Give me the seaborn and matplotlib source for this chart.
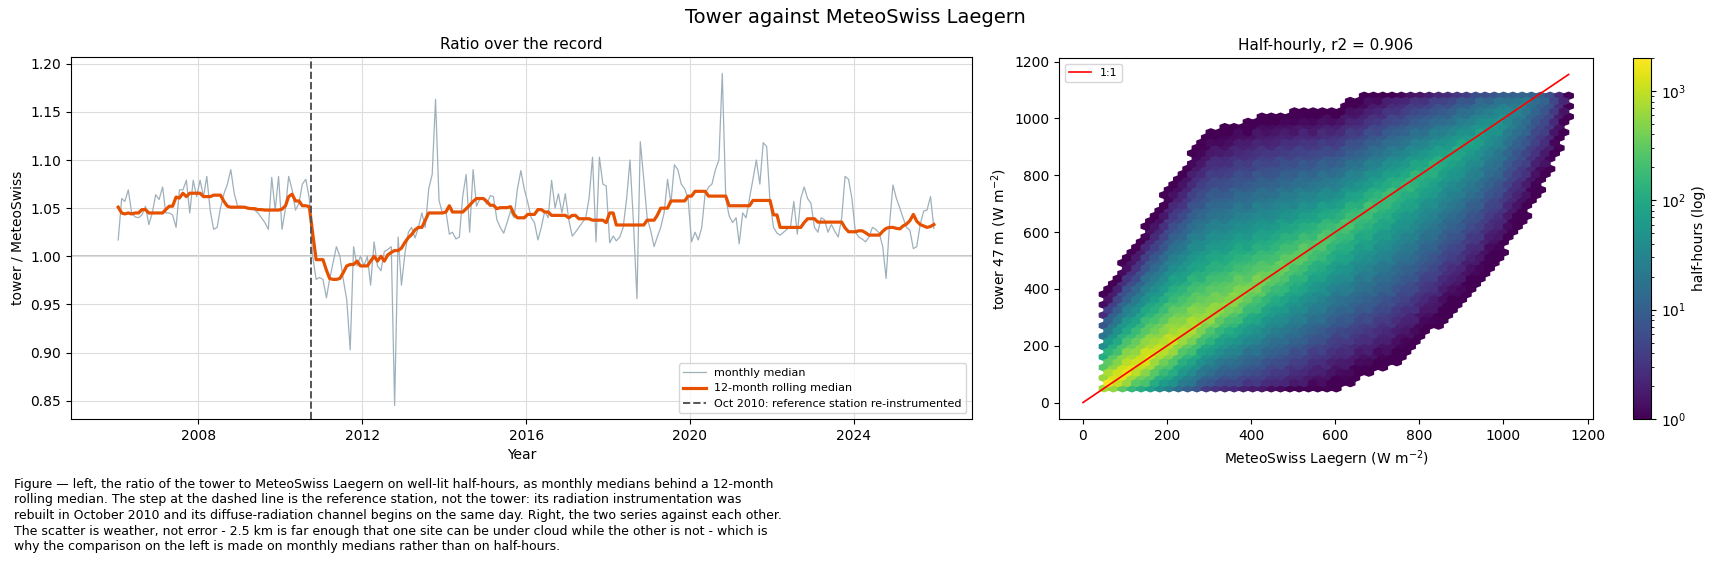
import matplotlib
matplotlib.use('Agg')
import matplotlib.pyplot as plt
import matplotlib.dates as mdates
import seaborn as sns
import numpy as np
import pandas as pd

# monthly median of tower / MeteoSwiss, Jan 2006 .. Dec 2025
ratio_by_year = {
    2006: [1.017, 1.060, 1.057, 1.069, 1.045, 1.041, 1.040, 1.043, 1.052, 1.033, 1.045, 1.064],
    2007: [1.059, 1.072, 1.045, 1.045, 1.043, 1.030, 1.069, 1.069, 1.079, 1.045, 1.079, 1.062],
    2008: [1.079, 1.062, 1.083, 1.047, 1.028, 1.030, 1.050, 1.065, 1.075, 1.090, 1.065, 1.052],
    2009: [1.052, 1.050, 1.050, 1.049, 1.048, 1.045, 1.040, 1.035, 1.028, 1.082, 1.048, 1.083],
    2010: [1.028, 1.050, 1.083, 1.069, 1.048, 1.055, 1.075, 1.080, 1.060, 1.000, 0.976, 0.978],
    2011: [0.976, 0.957, 0.976, 0.993, 1.010, 1.000, 0.976, 0.955, 0.903, 1.010, 0.990, 1.000],
    2012: [0.990, 1.000, 0.970, 1.015, 0.990, 0.985, 1.005, 1.007, 1.010, 0.845, 1.020, 0.970],
    2013: [1.003, 1.025, 1.030, 1.019, 1.030, 1.045, 1.030, 1.070, 1.085, 1.163, 1.058, 1.045],
    2014: [1.047, 1.023, 1.025, 1.018, 1.020, 1.063, 1.085, 1.025, 1.090, 1.052, 1.060, 1.060],
    2015: [1.054, 1.063, 1.062, 1.038, 1.030, 1.024, 1.035, 1.047, 1.040, 1.070, 1.089, 1.070],
    2016: [1.056, 1.040, 1.035, 1.017, 1.030, 1.047, 1.040, 1.079, 1.050, 1.065, 1.045, 1.065],
    2017: [1.038, 1.021, 1.025, 1.030, 1.035, 1.040, 1.060, 1.103, 1.015, 1.103, 1.075, 1.073],
    2018: [1.014, 1.021, 1.016, 1.020, 1.030, 1.060, 1.100, 1.035, 0.956, 1.119, 1.080, 1.040],
    2019: [1.027, 1.010, 1.020, 1.030, 1.045, 1.080, 1.055, 1.095, 1.090, 1.075, 1.070, 1.060],
    2020: [1.015, 1.025, 1.017, 1.030, 1.065, 1.072, 1.075, 1.090, 1.100, 1.190, 1.060, 1.042],
    2021: [1.035, 1.040, 1.013, 1.045, 1.040, 1.060, 1.080, 1.100, 1.075, 1.118, 1.114, 1.056],
    2022: [1.030, 1.024, 1.022, 1.025, 1.028, 1.030, 1.057, 1.023, 1.060, 1.072, 1.060, 1.055],
    2023: [1.030, 1.025, 1.040, 1.038, 1.025, 1.033, 1.026, 1.020, 1.040, 1.083, 1.080, 1.060],
    2024: [1.025, 1.020, 1.018, 1.015, 1.020, 1.030, 1.028, 1.024, 1.010, 0.977, 1.034, 1.074],
    2025: [1.060, 1.050, 1.040, 1.030, 1.027, 1.008, 1.010, 1.033, 1.047, 1.048, 1.062, 1.029],
}

# half-hourly density read off the hexbin: typical count per hex along the
# 1:1 line and the spread above / below it, at several irradiance levels
level_x = [50, 150, 300, 450, 600, 750, 900, 1050, 1150]
peak_count = [2000, 1500, 700, 400, 250, 180, 100, 25, 3]
spread_up = [40, 60, 95, 90, 75, 70, 60, 60, 60]
spread_down = [20, 40, 50, 75, 95, 110, 110, 110, 100]
r2_text = "0.906"

caption = ("Figure \u2014 left, the ratio of the tower to MeteoSwiss Laegern on well-lit half-hours, as monthly medians behind a 12-month\n"
           "rolling median. The step at the dashed line is the reference station, not the tower: its radiation instrumentation was\n"
           "rebuilt in October 2010 and its diffuse-radiation channel begins on the same day. Right, the two series against each other.\n"
           "The scatter is weather, not error - 2.5 km is far enough that one site can be under cloud while the other is not - which is\n"
           "why the comparison on the left is made on monthly medians rather than on half-hours.")

# ---- build frames
values = [v for y in sorted(ratio_by_year) for v in ratio_by_year[y]]
dates = pd.date_range("2006-01-01", periods=len(values), freq="MS") + pd.Timedelta(days=14)
df = pd.DataFrame({"date": dates, "ratio": values})
df["rolling"] = df["ratio"].rolling(12, center=True, min_periods=1).median()

step = 5
gx, gy = np.meshgrid(np.arange(50, 1156, step), np.arange(50, 1081, step))
gx, gy = gx.ravel(), gy.ravel()
pk = np.interp(gx, level_x, peak_count)
su = np.interp(gx, level_x, spread_up)
sd = np.interp(gx, level_x, spread_down)
d = gy - gx
dens = pk * np.exp(-np.where(d > 0, d / su, -d / sd))
pts_per_hex = 16.0
keep = dens >= 0.8
hx = pd.DataFrame({"ref": gx[keep], "tower": gy[keep], "w": dens[keep] / pts_per_hex})

# ---- figure
fig = plt.figure(figsize=(17.11, 5.61), dpi=100)
ax1 = fig.add_axes([71 / 1711, 1 - 419 / 561, 901 / 1711, 362 / 561])
ax2 = fig.add_axes([1059 / 1711, 1 - 419 / 561, 534 / 1711, 361 / 561])
cax = fig.add_axes([1633 / 1711, 1 - 419 / 561, 18 / 1711, 361 / 561])

ax1.grid(True, color="#dddddd", linewidth=0.8)
ax1.axhline(1.0, color="#bbbbbb", linewidth=1.2, zorder=1)
sns.lineplot(data=df, x="date", y="ratio", ax=ax1, color="#9fb0bb", linewidth=0.9,
             label="monthly median")
sns.lineplot(data=df, x="date", y="rolling", ax=ax1, color="#e65100", linewidth=2.3,
             label="12-month rolling median")
ax1.axvline(pd.Timestamp("2010-10-01"), color="#555555", linestyle="--", linewidth=1.4,
            label="Oct 2010: reference station re-instrumented")
ax1.set_xlim(pd.Timestamp("2004-11-20"), pd.Timestamp("2026-11-20"))
ax1.set_ylim(0.831, 1.207)
ax1.xaxis.set_major_locator(mdates.YearLocator(4))
ax1.xaxis.set_major_formatter(mdates.DateFormatter("%Y"))
ax1.set_xlabel("Year")
ax1.set_ylabel("tower / MeteoSwiss")
ax1.set_title("Ratio over the record", fontsize=11)
ax1.legend(loc="lower right", fontsize=8)

hb = ax2.hexbin(hx["ref"], hx["tower"], C=hx["w"], reduce_C_function=np.sum,
                gridsize=50, bins="log", cmap="viridis", vmin=1, vmax=2000)
sns.lineplot(x=[0, 1155], y=[0, 1155], ax=ax2, color="red", linewidth=1.2, label="1:1")
ax2.set_xlim(-57, 1213)
ax2.set_ylim(-58, 1213)
ax2.set_xlabel("MeteoSwiss Laegern (W m$^{-2}$)")
ax2.set_ylabel("tower 47 m (W m$^{-2}$)")
ax2.set_title(f"Half-hourly, r2 = {r2_text}", fontsize=11)
ax2.legend(loc="upper left", fontsize=8)
cb = fig.colorbar(hb, cax=cax)
cb.set_label("half-hours (log)")

fig.suptitle("Tower against MeteoSwiss Laegern", fontsize=14, y=0.985)
fig.text(14 / 1711, 1 - 478 / 561, caption, fontsize=9, va="top", ha="left", linespacing=1.25)

fig.savefig("out.png", dpi=100)
